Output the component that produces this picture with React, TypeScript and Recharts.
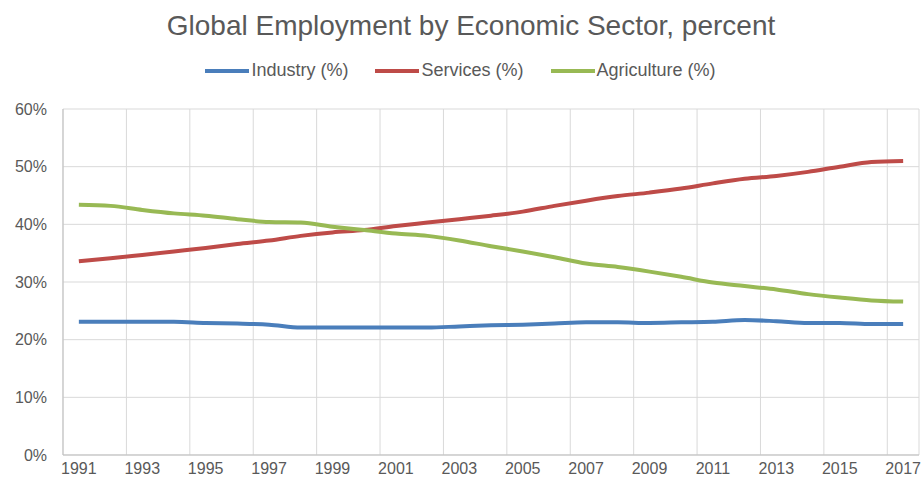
import React from 'react';
import { LineChart, Line, XAxis, YAxis, CartesianGrid, Legend } from 'recharts';

const years = [1991, 1992, 1993, 1994, 1995, 1996, 1997, 1998, 1999, 2000, 2001, 2002, 2003, 2004, 2005, 2006, 2007, 2008, 2009, 2010, 2011, 2012, 2013, 2014, 2015, 2016, 2017];
const industry = [23.1, 23.1, 23.1, 23.1, 22.9, 22.8, 22.6, 22.1, 22.1, 22.1, 22.1, 22.1, 22.3, 22.5, 22.6, 22.8, 23.0, 23.0, 22.9, 23.0, 23.1, 23.4, 23.2, 22.9, 22.9, 22.7, 22.7];
const services = [33.6, 34.1, 34.7, 35.3, 35.9, 36.6, 37.2, 38.0, 38.6, 39.0, 39.7, 40.3, 40.9, 41.5, 42.2, 43.2, 44.1, 44.9, 45.5, 46.2, 47.1, 47.9, 48.4, 49.1, 50.0, 50.8, 51.0];
const agriculture = [43.4, 43.2, 42.5, 41.9, 41.5, 40.9, 40.4, 40.3, 39.6, 39.0, 38.4, 38.0, 37.2, 36.2, 35.3, 34.3, 33.2, 32.6, 31.8, 30.9, 29.9, 29.3, 28.7, 27.9, 27.3, 26.8, 26.6];
const yearTicks = [1991, 1993, 1995, 1997, 1999, 2001, 2003, 2005, 2007, 2009, 2011, 2013, 2015, 2017];
const gridTicks = [1990.5, 1992.5, 1994.5, 1996.5, 1998.5, 2000.5, 2002.5, 2004.5, 2006.5, 2008.5, 2010.5, 2012.5, 2014.5, 2016.5];
const percentTicks = [0, 10, 20, 30, 40, 50, 60];
const seriesOrder = ['industry', 'services', 'agriculture'];

const data = years.map((year, i) => ({
  year,
  industry: industry[i],
  services: services[i],
  agriculture: agriculture[i],
}));

const FONT = '"Liberation Sans", Arial, sans-serif';
const TEXT = '#595959';

const renderLegend = (props: any) => {
  const payload = [...(props.payload || [])].sort(
    (a: any, b: any) => seriesOrder.indexOf(a.dataKey) - seriesOrder.indexOf(b.dataKey)
  );
  return (
    <div style={{ display: 'flex', justifyContent: 'center', alignItems: 'center', fontFamily: FONT, fontSize: 18, color: TEXT }}>
      {payload.map((p: any, i: number) => (
        <div key={i} style={{ display: 'flex', alignItems: 'center', marginLeft: i === 0 ? 0 : 27 }}>
          <div style={{ width: 44, height: 4, background: p.color, marginRight: 2 }} />
          <span>{p.value}</span>
        </div>
      ))}
    </div>
  );
};

export default function App() {
  return (
    <div style={{ position: 'absolute', left: 0, top: 0, width: 921, height: 483, background: '#fff', fontFamily: FONT }}>
      <div style={{ position: 'absolute', left: 71, width: 800, top: 12, textAlign: 'center', fontSize: 28, lineHeight: '28px', color: TEXT }}>
        Global Employment by Economic Sector, percent
      </div>
      <LineChart width={921} height={483} data={data} margin={{ top: 109, right: 2, bottom: 0, left: 0 }}>
        <CartesianGrid xAxisId="grid" stroke="#d9d9d9" strokeWidth={1} />
        <XAxis xAxisId="grid" type="number" dataKey="year" domain={[1990.5, 2017.5]} ticks={gridTicks} allowDataOverflow hide />
        <XAxis
          dataKey="year"
          type="number"
          domain={[1990.5, 2017.5]}
          ticks={yearTicks}
          interval={0}
          allowDataOverflow
          height={28}
          tickLine={false}
          tickSize={0}
          tickMargin={8}
          stroke="#bfbfbf"
          tick={{ fill: TEXT, fontSize: 16, fontFamily: FONT }}
        />
        <YAxis
          type="number"
          domain={[0, 60]}
          ticks={percentTicks}
          interval={0}
          width={63}
          tickLine={false}
          tickSize={0}
          tickMargin={16}
          stroke="#bfbfbf"
          tickFormatter={(v: number) => `${v}%`}
          tick={{ fill: TEXT, fontSize: 16, fontFamily: FONT }}
        />
        <Legend verticalAlign="middle" align="center" content={renderLegend} wrapperStyle={{ top: 60, left: 0, width: 921 }} />
        <Line type="monotone" dataKey="industry" name="Industry (%)" stroke="#4a7ebb" strokeWidth={4} dot={false} isAnimationActive={false} />
        <Line type="monotone" dataKey="services" name="Services (%)" stroke="#be4b48" strokeWidth={4} dot={false} isAnimationActive={false} />
        <Line type="monotone" dataKey="agriculture" name="Agriculture (%)" stroke="#98b954" strokeWidth={4} dot={false} isAnimationActive={false} />
      </LineChart>
    </div>
  );
}
